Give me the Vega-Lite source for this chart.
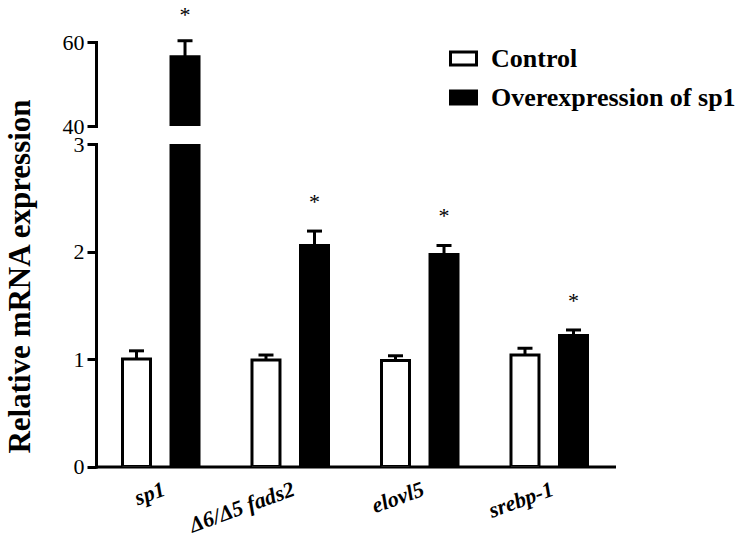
{
  "$schema": "https://vega.github.io/schema/vega-lite/v6.json",
  "padding": {"left": 3, "top": 3, "right": 5, "bottom": 5},
  "bounds": "flush",
  "background": "white",
  "data": {"values": [
    {"gene": "sp1", "group": "Control", "value": 1.0, "upper": 1.076, "sig": ""},
    {"gene": "sp1", "group": "Overexpression of sp1", "value": 56.5, "upper": 60.3, "sig": "*"},
    {"gene": "Δ6/Δ5 fads2", "group": "Control", "value": 0.99, "upper": 1.037, "sig": ""},
    {"gene": "Δ6/Δ5 fads2", "group": "Overexpression of sp1", "value": 2.056, "upper": 2.19, "sig": "*"},
    {"gene": "elovl5", "group": "Control", "value": 0.985, "upper": 1.03, "sig": ""},
    {"gene": "elovl5", "group": "Overexpression of sp1", "value": 1.972, "upper": 2.056, "sig": "*"},
    {"gene": "srebp-1", "group": "Control", "value": 1.037, "upper": 1.1, "sig": ""},
    {"gene": "srebp-1", "group": "Overexpression of sp1", "value": 1.219, "upper": 1.27, "sig": "*"}
  ]},
  "spacing": 18,
  "resolve": {"scale": {"y": "independent", "x": "shared", "fill": "shared"}, "axis": {"x": "independent"}, "legend": {"fill": "shared"}},
  "vconcat": [
    {
      "width": 518,
      "height": 84,
      "transform": [{"filter": "datum.value >= 40"}],
      "encoding": {
        "x": {"field": "gene", "type": "nominal", "scale": {"domain": ["sp1", "Δ6/Δ5 fads2", "elovl5", "srebp-1"], "paddingInner": 0, "paddingOuter": 0}, "axis": null},
        "xOffset": {"field": "group", "type": "nominal", "scale": {"domain": ["Control", "Overexpression of sp1"], "paddingInner": 0.423, "paddingOuter": 0.546}}
      },
      "layer": [
        {
          "mark": {"type": "bar", "stroke": "black", "strokeWidth": 3, "clip": true},
          "encoding": {
            "y": {"field": "value", "type": "quantitative", "scale": {"domain": [40, 60], "zero": false, "nice": false}, "axis": {"values": [40, 60], "title": null, "format": "d"}},
            "y2": {"datum": 40},
            "fill": {"field": "group", "type": "nominal", "scale": {"domain": ["Control", "Overexpression of sp1"], "range": ["white", "black"]}, "legend": {"title": null}}
          }
        },
        {
          "mark": {"type": "rule", "strokeWidth": 3, "color": "black"},
          "encoding": {"y": {"field": "value", "type": "quantitative"}, "y2": {"field": "upper"}}
        },
        {
          "mark": {"type": "tick", "thickness": 3, "size": 15, "color": "black", "opacity": 1},
          "encoding": {"y": {"field": "upper", "type": "quantitative"}}
        },
        {
          "mark": {"type": "text", "fontSize": 22, "dy": -26, "baseline": "middle", "color": "black", "font": "Liberation Serif"},
          "encoding": {"y": {"field": "upper", "type": "quantitative"}, "text": {"field": "sig"}}
        }
      ]
    },
    {
      "width": 518,
      "height": 322.5,
      "encoding": {
        "x": {"field": "gene", "type": "nominal", "scale": {"domain": ["sp1", "Δ6/Δ5 fads2", "elovl5", "srebp-1"], "paddingInner": 0, "paddingOuter": 0},
          "axis": {"title": null, "ticks": false, "labelAngle": -20, "labelAlign": "right", "labelBaseline": "top", "labelFontSize": 22, "labelFontWeight": "bold", "labelFontStyle": "italic", "labelPadding": 12}},
        "xOffset": {"field": "group", "type": "nominal", "scale": {"domain": ["Control", "Overexpression of sp1"], "paddingInner": 0.423, "paddingOuter": 0.546}}
      },
      "layer": [
        {
          "mark": {"type": "bar", "stroke": "black", "strokeWidth": 3, "clip": true},
          "encoding": {
            "y": {"field": "value", "type": "quantitative", "scale": {"domain": [0, 3], "nice": false}, "axis": {"values": [0, 1, 2, 3], "format": "d", "title": "Relative mRNA expression", "titlePadding": 37, "titleY": 132}},
            "fill": {"field": "group", "type": "nominal", "scale": {"domain": ["Control", "Overexpression of sp1"], "range": ["white", "black"]}, "legend": {"title": null}}
          }
        },
        {
          "transform": [{"filter": "datum.upper <= 3"}],
          "mark": {"type": "rule", "strokeWidth": 3, "color": "black"},
          "encoding": {"y": {"field": "value", "type": "quantitative"}, "y2": {"field": "upper"}}
        },
        {
          "transform": [{"filter": "datum.upper <= 3"}],
          "mark": {"type": "tick", "thickness": 3, "size": 15, "color": "black", "opacity": 1},
          "encoding": {"y": {"field": "upper", "type": "quantitative"}}
        },
        {
          "transform": [{"filter": "datum.upper <= 3"}],
          "mark": {"type": "text", "fontSize": 22, "dy": -29, "baseline": "middle", "color": "black", "font": "Liberation Serif"},
          "encoding": {"y": {"field": "upper", "type": "quantitative"}, "text": {"field": "sig"}}
        }
      ]
    }
  ],
  "config": {
    "font": "Liberation Serif",
    "view": {"stroke": null},
    "axis": {
      "domainColor": "black", "domainWidth": 3, "tickColor": "black", "tickWidth": 3, "tickSize": 9,
      "labelColor": "black", "labelFontSize": 22, "labelFont": "Liberation Serif", "labelPadding": 3,
      "grid": false, "titleColor": "black", "titleFont": "Liberation Serif", "titleFontSize": 31, "titleFontWeight": "bold",
      "labelOverlap": false, "labelBound": false, "domainCap": "square"
    },
    "legend": {
      "orient": "none", "legendX": 353, "legendY": 2,
      "labelFont": "Liberation Serif", "labelFontSize": 26, "labelFontWeight": "bold", "labelColor": "black", "labelLimit": 0,
      "symbolType": "M-1,-0.5H1V0.5H-1Z", "symbolSize": 676, "symbolStrokeColor": "black", "symbolStrokeWidth": 3,
      "labelOffset": 13, "rowPadding": 11
    }
  }
}
